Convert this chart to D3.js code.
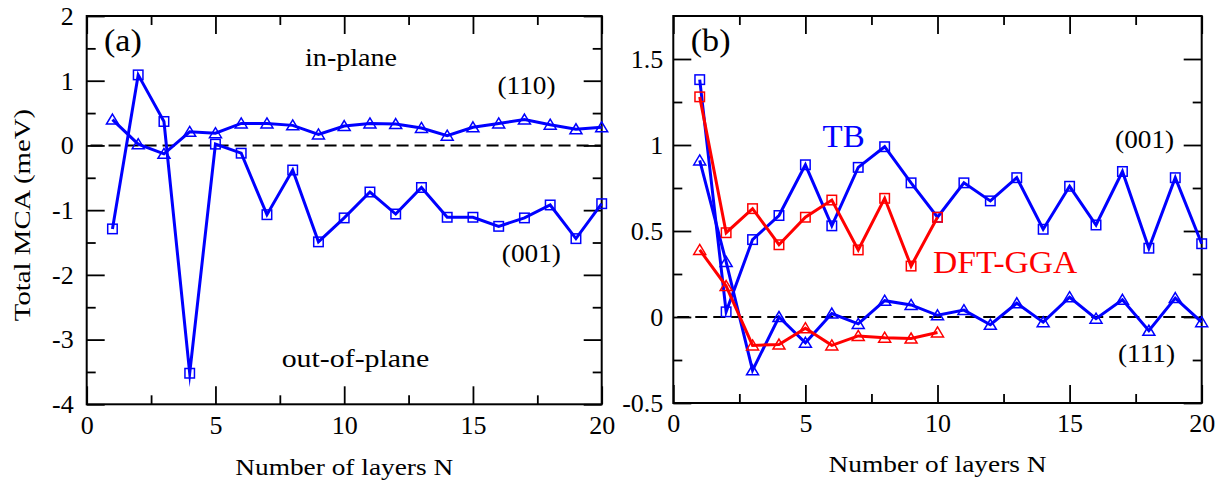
<!DOCTYPE html>
<html><head><meta charset="utf-8">
<script src="https://cdn.jsdelivr.net/npm/d3@7"></script>
<style>
html,body{margin:0;padding:0;background:#fff;}
svg{display:block;}
text{font-family:"Liberation Serif","Times New Roman",Times,serif;}
</style></head><body>
<svg id="c" width="1223" height="483"></svg>
<script>
// ---------- data ----------
const layers20 = [1,2,3,4,5,6,7,8,9,10,11,12,13,14,15,16,17,18,19,20];
const layers10 = [1,2,3,4,5,6,7,8,9,10];

// panel (a)
const a_inPlane110 = [0.40,0.02,-0.13,0.21,0.19,0.34,0.34,0.31,0.17,0.30,0.34,0.33,0.27,0.15,0.28,0.34,0.40,0.32,0.25,0.28];
const a_outPlane001 = [-1.29,1.09,0.37,-3.52,0.02,-0.12,-1.07,-0.38,-1.49,-1.12,-0.72,-1.06,-0.65,-1.11,-1.11,-1.25,-1.12,-0.92,-1.44,-0.90];

// panel (b)
const b_TB001 = [1.38,0.03,0.45,0.59,0.885,0.53,0.87,0.99,0.78,0.58,0.78,0.675,0.81,0.51,0.76,0.535,0.846,0.40,0.81,0.426];
const b_TB111 = [0.91,0.32,-0.31,0.0,-0.15,0.02,-0.04,0.095,0.07,0.01,0.04,-0.045,0.08,-0.03,0.115,-0.01,0.10,-0.08,0.11,-0.03];
const b_DFT001 = [1.28,0.49,0.63,0.42,0.58,0.68,0.39,0.69,0.296,0.58];
const b_DFT111 = [0.39,0.18,-0.165,-0.16,-0.065,-0.165,-0.11,-0.12,-0.125,-0.09];

// ticks
const xMajor = [0,5,10,15,20];
const xMinor = [2.5,7.5,12.5,17.5];
const aYMajor = [-4,-3,-2,-1,0,1,2];
const aYMinor = [-3.5,-2.5,-1.5,-0.5,0.5,1.5];
const bYMajor = [-0.5,0,0.5,1,1.5];
const bYMinor = [-0.25,0.25,0.75,1.25];

const xTitle = "Number of layers N";
const yTitle = "Total MCA (meV)";

// ---------- drawing ----------
const svg = d3.select("#c");
const BLUE = "#0000ff", RED = "#ff0000";
const SERIF = '"Liberation Serif","Times New Roman",Times,serif';

function stext(g, x, y, str, o) {
  const t = g.append("g").attr("transform",
    `translate(${x},${y}) rotate(${o.rot||0}) scale(${o.sx||1},1)`);
  t.append("text").attr("text-anchor", o.anchor||"start")
    .style("font-family", SERIF)
    .attr("font-size", o.size).attr("fill", o.color||"#000").text(str);
}

function panel(cfg) {
  const g = svg.append("g");
  const x = d3.scaleLinear().domain([0,20]).range(cfg.xr);
  const y = d3.scaleLinear().domain(cfg.yd).range(cfg.yr);
  const [x0,x1] = cfg.xr, [y0,y1] = cfg.yr; // y0 bottom, y1 top

  const tickStyle = s => { s.select(".domain").remove();
    s.attr("font-family", SERIF);
    s.selectAll(".tick line").attr("stroke","#000").attr("stroke-width",1.8);
    s.selectAll(".tick text").style("font-family", SERIF)
      .attr("font-size",26).attr("fill","#000"); };

  const fmt = d => String(d);
  g.append("g").attr("transform",`translate(0,${y0})`)
    .call(d3.axisBottom(x).tickValues(xMajor).tickSize(-18).tickPadding(11).tickFormat(fmt)).call(tickStyle);
  g.append("g").attr("transform",`translate(0,${y0})`)
    .call(d3.axisBottom(x).tickValues(xMinor).tickSize(-9).tickFormat("")).call(tickStyle);
  g.append("g").attr("transform",`translate(0,${y1})`)
    .call(d3.axisTop(x).tickValues(xMajor).tickSize(-18).tickFormat("")).call(tickStyle);
  g.append("g").attr("transform",`translate(0,${y1})`)
    .call(d3.axisTop(x).tickValues(xMinor).tickSize(-9).tickFormat("")).call(tickStyle);
  g.append("g").attr("transform",`translate(${x0},0)`)
    .call(d3.axisLeft(y).tickValues(cfg.yMajor).tickSize(-18).tickPadding(cfg.yPad).tickFormat(fmt)).call(tickStyle);
  g.append("g").attr("transform",`translate(${x0},0)`)
    .call(d3.axisLeft(y).tickValues(cfg.yMinor).tickSize(-9).tickFormat("")).call(tickStyle);
  g.append("g").attr("transform",`translate(${x1},0)`)
    .call(d3.axisRight(y).tickValues(cfg.yMajor).tickSize(-18).tickFormat("")).call(tickStyle);
  g.append("g").attr("transform",`translate(${x1},0)`)
    .call(d3.axisRight(y).tickValues(cfg.yMinor).tickSize(-9).tickFormat("")).call(tickStyle);

  g.append("rect").attr("x",x0).attr("y",y1).attr("width",x1-x0).attr("height",y0-y1)
    .attr("fill","none").attr("stroke","#000").attr("stroke-width",2);

  // zero line
  g.append("line").attr("x1",x(0.15)).attr("x2",x(20)).attr("y1",y(0)).attr("y2",y(0))
    .attr("stroke","#000").attr("stroke-width",2).attr("stroke-dasharray","12,6");

  const line = d3.line().x(d=>x(d[0])).y(d=>y(d[1]));
  cfg.series.forEach(s => {
    const pts = s.n.map((n,i)=>[n, s.v[i]]);
    g.append("path").datum(pts).attr("d",line).attr("fill","none")
      .attr("stroke",s.color).attr("stroke-width",3)
      .attr("stroke-linejoin","miter").attr("stroke-miterlimit",12);
    const mk = g.append("g");
    if (s.marker === "square") {
      mk.selectAll("rect").data(pts).join("rect")
        .attr("x",d=>x(d[0])-4.75).attr("y",d=>y(d[1])-4.75)
        .attr("width",9.5).attr("height",9.5)
        .attr("fill","none").attr("stroke",s.color).attr("stroke-width",1.5);
    } else {
      mk.selectAll("path").data(pts).join("path")
        .attr("d",d=>{const cx=x(d[0]), cy=y(d[1]);
          return `M${cx},${cy-5.5}L${cx+6},${cy+4.5}L${cx-6},${cy+4.5}Z`;})
        .attr("fill","none").attr("stroke",s.color).attr("stroke-width",1.5);
    }
  });

  cfg.notes.forEach(n => stext(g, x(n.n), y(n.v), n.t, n));

  // axis titles
  stext(g, (x0+x1)/2, cfg.xTitleY, xTitle, {size:24, sx:1.14, anchor:"middle"});
  return {x,y,g};
}

panel({
  xr:[86.7,601.7], yd:[-4,2], yr:[404.3,16], yMajor:aYMajor, yMinor:aYMinor, yPad:13,
  xTitleY:475,
  series:[
    {n:layers20, v:a_inPlane110, color:BLUE, marker:"triangle"},
    {n:layers20, v:a_outPlane001, color:BLUE, marker:"square"}
  ],
  notes:[
    {t:"(a)", n:0.67, v:1.46, size:31, sx:1.1},
    {t:"in-plane", n:8.48, v:1.22, size:26, sx:1.08},
    {t:"(110)", n:15.95, v:0.80, size:26, sx:1.05},
    {t:"(001)", n:16.12, v:-1.80, size:26, sx:1.05},
    {t:"out-of-plane", n:7.57, v:-3.43, size:26, sx:1.15}
  ]
});

panel({
  xr:[673.3,1201.7], yd:[-0.5,1.75], yr:[403,16], yMajor:bYMajor, yMinor:bYMinor, yPad:10,
  xTitleY:472,
  series:[
    {n:layers20, v:b_TB001, color:BLUE, marker:"square"},
    {n:layers20, v:b_TB111, color:BLUE, marker:"triangle"},
    {n:layers10, v:b_DFT001, color:RED, marker:"square"},
    {n:layers10, v:b_DFT111, color:RED, marker:"triangle"}
  ],
  notes:[
    {t:"(b)", n:0.66, v:1.546, size:31, sx:1.1},
    {t:"TB", n:5.65, v:0.99, size:32, sx:1.03, color:BLUE},
    {t:"DFT-GGA", n:9.83, v:0.258, size:32, sx:1.05, color:RED},
    {t:"(001)", n:16.72, v:0.98, size:26, sx:1.05},
    {t:"(111)", n:16.83, v:-0.26, size:26, sx:1.05}
  ]
});

// y axis title (panel a)
stext(svg, 30, 215, yTitle, {size:24, sx:1.2, anchor:"middle", rot:-90});
</script>
</body></html>
